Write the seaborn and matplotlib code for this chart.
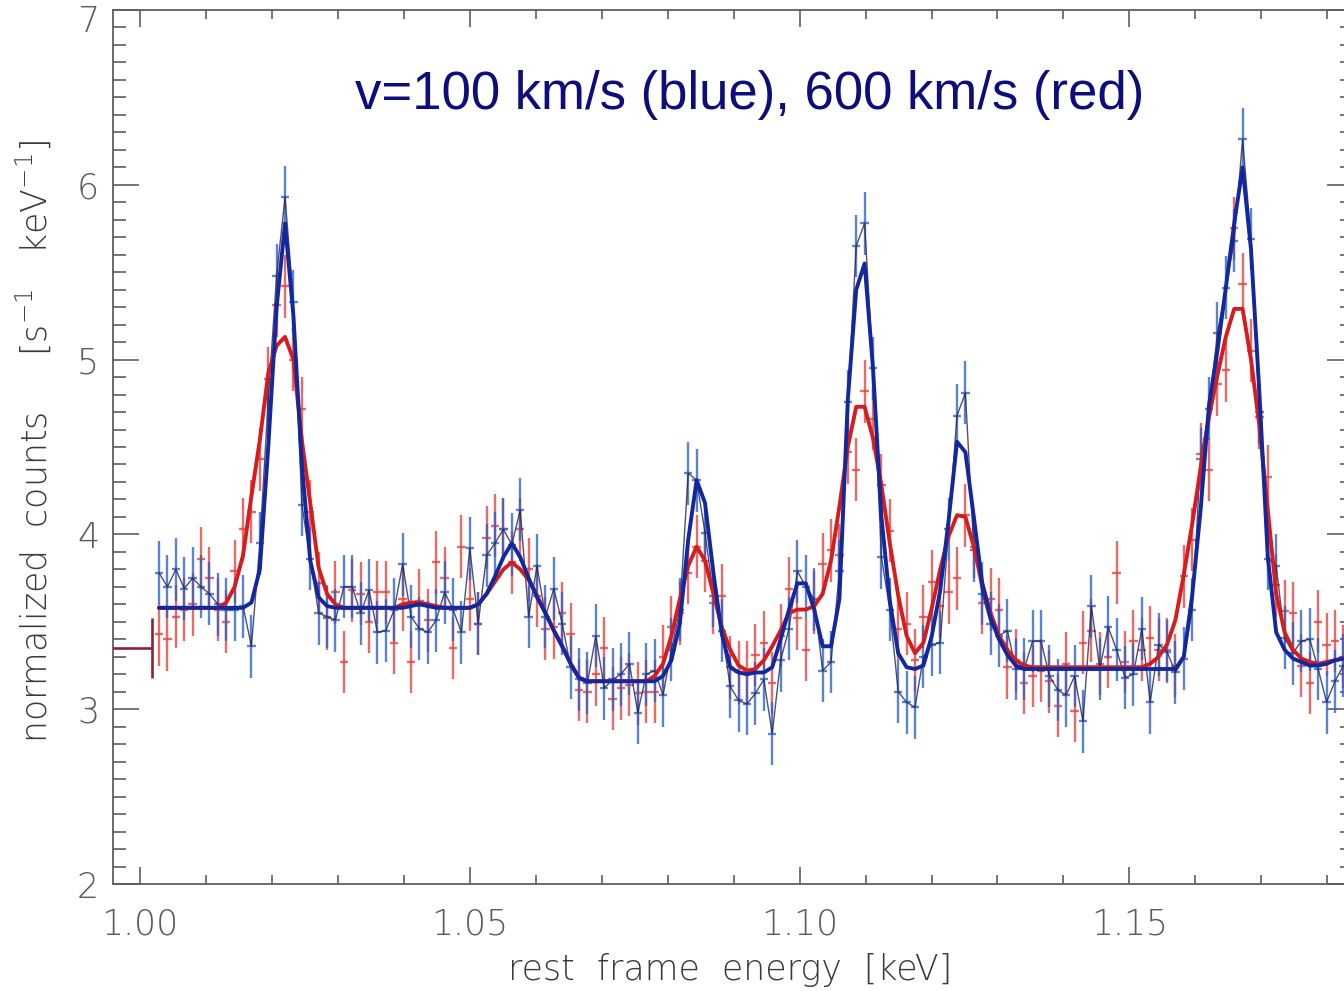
import numpy as np
import pandas as pd
import matplotlib
matplotlib.use("Agg")
import matplotlib.pyplot as plt
import matplotlib.transforms as mtransforms
import seaborn as sns
from matplotlib.ticker import MultipleLocator, FormatStrFormatter

# Spectral channel grid (keV): centre of first channel and channel width
CHANNEL_START = 1.00288
CHANNEL_WIDTH = 0.0012735

# Observed normalized counts, v = 100 km/s simulation
blue_counts = [
    3.78, 3.70, 3.80, 3.69, 3.75, 3.70, 3.66, 3.60, 3.57, 3.57,
    3.59, 3.36, 3.95, 4.77, 5.48, 5.93, 5.33, 4.17, 3.86, 3.55,
    3.53, 3.51, 3.70, 3.70, 3.55, 3.68, 3.44, 3.45, 3.57, 3.83,
    3.53, 3.46, 3.44, 3.51, 3.67, 3.57, 3.44, 3.92, 3.49, 3.88,
    3.95, 4.03, 3.94, 4.14, 3.53, 3.82, 3.53, 3.69, 3.49, 3.24,
    3.17, 3.15, 3.42, 3.12, 3.17, 3.20, 3.26, 2.98, 3.20, 3.22,
    3.08, 3.34, 3.57, 4.35, 4.31, 4.01, 3.65, 3.45, 3.13, 3.05,
    3.03, 3.09, 3.17, 2.86, 3.28, 3.46, 3.79, 3.70, 3.63, 3.22,
    3.27, 3.79, 4.76, 5.65, 5.78, 4.95, 3.87, 3.57, 3.10, 3.04,
    3.01, 3.30, 3.37, 3.38, 4.03, 4.68, 4.81, 3.91, 3.66, 3.49,
    3.42, 3.45, 3.23, 3.23, 3.39, 3.39, 3.19, 3.11, 3.08, 3.19,
    2.93, 3.59, 3.23, 3.47, 3.34, 3.18, 3.20, 3.46, 3.04, 3.37,
    3.33, 3.21, 3.29, 3.57, 4.43, 4.72, 5.15, 5.41, 5.68, 6.26,
    5.69, 4.70, 3.86, 3.82, 3.41, 3.32, 3.39, 3.40, 3.23, 3.04,
    3.16, 3.25,
]

# Observed normalized counts, v = 600 km/s simulation
red_counts = [
    3.43, 3.40, 3.53, 3.57, 3.60, 3.86, 3.75, 3.57, 3.50, 3.79,
    4.03, 4.13, 4.43, 4.89, 5.31, 5.42, 5.00, 4.72, 4.13, 3.72,
    3.52, 3.67, 3.27, 3.68, 3.66, 3.50, 3.67, 3.67, 3.38, 3.63,
    3.27, 3.62, 3.51, 3.84, 3.75, 3.35, 3.93, 3.63, 3.49, 3.98,
    4.05, 4.03, 3.84, 4.03, 3.80, 3.65, 3.46, 3.47, 3.55, 3.43,
    3.11, 3.10, 3.20, 3.35, 3.06, 3.12, 3.14, 3.09, 3.10, 3.10,
    3.30, 3.47, 3.55, 3.78, 3.93, 3.85, 3.61, 3.65, 3.24, 3.21,
    3.21, 3.31, 3.38, 3.15, 3.42, 3.69, 3.52, 3.34, 3.61, 3.83,
    3.91, 3.88, 4.47, 4.37, 4.82, 4.66, 4.28, 4.02, 3.46, 3.49,
    3.28, 3.53, 3.73, 3.59, 3.67, 3.75, 4.11, 3.93, 3.61, 3.63,
    3.57, 3.24, 3.28, 3.15, 3.19, 3.22, 3.16, 3.02, 3.26, 2.99,
    3.38, 3.45, 3.26, 3.30, 3.78, 3.27, 3.39, 3.34, 3.41, 3.34,
    3.34, 3.25, 3.76, 3.97, 4.46, 4.37, 4.86, 4.94, 5.75, 5.43,
    5.05, 4.67, 4.33, 3.71, 3.56, 3.55, 3.25, 3.15, 3.50, 3.37,
    3.39, 3.30,
]

# Best-fit model, v = 100 km/s
blue_model = [
    3.58, 3.58, 3.58, 3.58, 3.58, 3.58, 3.58, 3.58, 3.58, 3.58,
    3.58, 3.61, 3.80, 4.50, 5.30, 5.78, 5.25, 4.40, 3.85, 3.64,
    3.59, 3.58, 3.58, 3.58, 3.58, 3.58, 3.58, 3.58, 3.58, 3.58,
    3.59, 3.60, 3.59, 3.58, 3.58, 3.58, 3.58, 3.58, 3.60, 3.66,
    3.76, 3.87, 3.95, 3.87, 3.75, 3.64, 3.55, 3.45, 3.36, 3.26,
    3.18, 3.16, 3.16, 3.16, 3.16, 3.16, 3.16, 3.16, 3.16, 3.16,
    3.19, 3.28, 3.49, 3.97, 4.31, 4.18, 3.78, 3.43, 3.24, 3.21,
    3.20, 3.21, 3.21, 3.24, 3.40, 3.57, 3.72, 3.72, 3.57, 3.36,
    3.36, 3.63, 4.77, 5.40, 5.55, 4.95, 4.10, 3.62, 3.32, 3.24,
    3.23, 3.25, 3.42, 3.68, 4.08, 4.53, 4.47, 4.10, 3.72, 3.52,
    3.40, 3.31, 3.25, 3.23, 3.23, 3.23, 3.23, 3.23, 3.23, 3.23,
    3.23, 3.23, 3.23, 3.23, 3.23, 3.23, 3.23, 3.23, 3.23, 3.23,
    3.23, 3.23, 3.30, 3.65, 4.14, 4.74, 5.05, 5.41, 5.78, 6.10,
    5.63, 4.81, 3.87, 3.44, 3.34, 3.29, 3.27, 3.25, 3.25, 3.26,
    3.28, 3.29,
]

# Best-fit model, v = 600 km/s
red_model = [
    3.58, 3.58, 3.58, 3.58, 3.58, 3.58, 3.58, 3.58, 3.61, 3.70,
    3.88, 4.22, 4.54, 4.92, 5.08, 5.13, 5.00, 4.54, 4.18, 3.81,
    3.66, 3.60, 3.58, 3.58, 3.58, 3.58, 3.58, 3.58, 3.58, 3.60,
    3.61, 3.61, 3.60, 3.59, 3.58, 3.58, 3.58, 3.58, 3.60, 3.66,
    3.73, 3.80, 3.84, 3.80, 3.74, 3.65, 3.55, 3.45, 3.36, 3.26,
    3.18, 3.16, 3.16, 3.16, 3.16, 3.16, 3.16, 3.16, 3.16, 3.19,
    3.26, 3.42, 3.63, 3.82, 3.93, 3.85, 3.66, 3.47, 3.34, 3.25,
    3.22, 3.23, 3.28, 3.36, 3.45, 3.55, 3.57, 3.57, 3.59, 3.66,
    3.85, 4.16, 4.50, 4.73, 4.73, 4.55, 4.28, 3.95, 3.65, 3.42,
    3.32, 3.38, 3.58, 3.80, 3.99, 4.11, 4.10, 3.93, 3.72, 3.55,
    3.42, 3.34, 3.28, 3.25, 3.24, 3.24, 3.24, 3.24, 3.24, 3.24,
    3.24, 3.24, 3.24, 3.24, 3.24, 3.24, 3.24, 3.24, 3.26, 3.30,
    3.37, 3.51, 3.77, 4.06, 4.38, 4.67, 4.91, 5.13, 5.29, 5.29,
    5.00, 4.62, 4.14, 3.66, 3.44, 3.34, 3.29, 3.27, 3.26, 3.27,
    3.28, 3.29,
]

# 1-sigma count errors
BLUE_ERR = 0.18
RED_ERR = 0.18

# Wide low-energy channel that starts below the plotted range
edge_channel_hi = 1.0018
edge_channel_level = 3.35
edge_channel_err = 0.17

x_ticks = [1.00, 1.05, 1.10, 1.15]
y_ticks = [2, 3, 4, 5, 6, 7]
XLIM = (0.9959, 1.1839)
YLIM = (2.0, 7.0)

annotation = "v=100 km/s (blue), 600 km/s (red)"
x_title = "rest  frame  energy  [keV]"
y_title = r"normalized  counts     [s$^{-1}$   keV$^{-1}$]"

energy = CHANNEL_START + CHANNEL_WIDTH * np.arange(len(blue_counts))
models = pd.concat([
    pd.DataFrame({"energy": energy, "counts": red_model, "model": "600 km/s"}),
    pd.DataFrame({"energy": energy, "counts": blue_model, "model": "100 km/s"}),
])

sns.set_theme(style="ticks")
plt.rcParams["font.family"] = ["DejaVu Sans"]
plt.rcParams["mathtext.default"] = "regular"

W, H = 1344, 991
fig = plt.figure(figsize=(W / 100, H / 100), dpi=100)
fig.patch.set_facecolor("white")
ax = fig.add_axes([113 / W, (H - 884) / H, (1353 - 113) / W, (884 - 10) / H])
ax.set_facecolor("white")

# data crosses
ax.errorbar(energy, red_counts, xerr=CHANNEL_WIDTH / 2, yerr=RED_ERR,
            fmt="none", ecolor="#e3403c", elinewidth=1.7, alpha=0.78,
            capsize=0, zorder=2)
ax.errorbar(energy, blue_counts, xerr=CHANNEL_WIDTH / 2, yerr=BLUE_ERR,
            fmt="none", ecolor="#2e5fc6", elinewidth=1.7, alpha=0.78,
            capsize=0, zorder=3)
sns.lineplot(x=energy, y=blue_counts, estimator=None, color="#23234f",
             linewidth=1.0, alpha=0.8, ax=ax, zorder=4)

# first wide channel
ax.hlines(edge_channel_level, XLIM[0], edge_channel_hi, color="#8c2236",
          linewidth=1.9, zorder=3)
ax.vlines(edge_channel_hi, edge_channel_level - edge_channel_err,
          edge_channel_level + edge_channel_err, color="#8c2236",
          linewidth=1.9, zorder=3)

# model curves
sns.lineplot(data=models, x="energy", y="counts", hue="model",
             palette={"600 km/s": "#d61c1c", "100 km/s": "#13279e"},
             estimator=None, linewidth=2.8, legend=False, ax=ax, zorder=5)

ax.set_xlim(*XLIM)
ax.set_ylim(*YLIM)
ax.set_xticks(x_ticks)
ax.set_yticks(y_ticks)
ax.xaxis.set_minor_locator(MultipleLocator(0.01))
ax.yaxis.set_minor_locator(MultipleLocator(0.1))
ax.xaxis.set_major_formatter(FormatStrFormatter("%.2f"))
ax.yaxis.set_major_formatter(FormatStrFormatter("%d"))

spine_color = "#5e5e5e"
for s in ax.spines.values():
    s.set_color(spine_color)
    s.set_linewidth(1.3)
ax.tick_params(which="both", direction="in", top=True, right=True,
               color=spine_color, width=1.2)
ax.tick_params(axis="x", which="major", length=12.5, pad=17)
ax.tick_params(axis="x", which="minor", length=6.5)
ax.tick_params(axis="y", which="major", length=18.5, pad=10)
ax.tick_params(axis="y", which="minor", length=9.5)
for lab in ax.get_xticklabels() + ax.get_yticklabels():
    lab.set_fontsize(25)
    lab.set_color("#5c5c5c")
    lab.set_fontweight("light")

# keep the top value label inside the figure
top_label = ax.get_yticklabels()[-1]
top_label.set_transform(top_label.get_transform() +
                        mtransforms.ScaledTranslation(0, -0.09, fig.dpi_scale_trans))

ax.set_xlabel(x_title, fontsize=25, color="#3a3a3a", fontweight="light")
ax.xaxis.set_label_coords(0.4976, -0.079)
ax.set_ylabel(y_title, fontsize=25, color="#3a3a3a", fontweight="light")
ax.yaxis.set_label_coords(-0.048, 0.506)

ax.text(1.0326, 6.515, annotation, color="#0d0d7c", fontsize=38,
        family=["Liberation Sans", "DejaVu Sans"], ha="left", va="center",
        zorder=6)

fig.savefig("out.png", dpi=100, facecolor="white")
